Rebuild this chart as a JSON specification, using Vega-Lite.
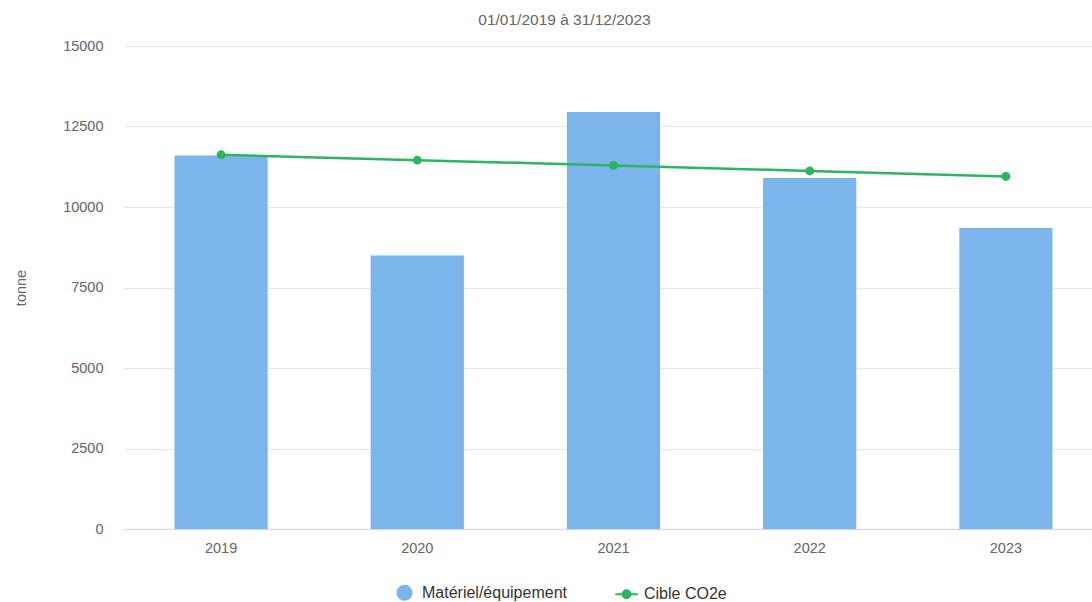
{
  "$schema": "https://vega.github.io/schema/vega-lite/v6.json",
  "width": 981,
  "height": 483,
  "autosize": "none",
  "padding": {"left": 123, "top": 46, "right": 0, "bottom": 73},
  "background": "white",
  "config": {
    "font": "Liberation Sans",
    "view": {"stroke": null}
  },
  "title": {
    "text": "01/01/2019 à 31/12/2023",
    "fontSize": 15.5,
    "fontWeight": "normal",
    "color": "#666666",
    "anchor": "middle",
    "dx": -49,
    "offset": 10
  },
  "data": {
    "values": [
      {"annee": "2019", "materiel": 11600, "cible": 11620},
      {"annee": "2020", "materiel": 8490, "cible": 11455},
      {"annee": "2021", "materiel": 12950, "cible": 11290},
      {"annee": "2022", "materiel": 10900, "cible": 11120},
      {"annee": "2023", "materiel": 9350, "cible": 10950}
    ]
  },
  "encoding": {
    "x": {
      "field": "annee",
      "type": "ordinal",
      "scale": {"paddingInner": 0.525, "paddingOuter": 0.2625},
      "axis": {
        "title": null,
        "labelAngle": 0,
        "labelColor": "#666666",
        "labelFontSize": 14.5,
        "labelPadding": 12,
        "ticks": false,
        "domainColor": "#ccd6eb",
        "domainWidth": 1,
        "grid": false
      }
    }
  },
  "layer": [
    {
      "mark": {"type": "bar", "color": "#7cb5ec"},
      "encoding": {
        "y": {
          "field": "materiel",
          "type": "quantitative",
          "scale": {"domain": [0, 15000], "nice": false},
          "axis": {
            "title": "tonne",
            "titleColor": "#666666",
            "titleFontSize": 14.5,
            "titleFontWeight": "normal",
            "titlePadding": 34,
            "values": [0, 2500, 5000, 7500, 10000, 12500, 15000],
            "format": "d",
            "labelColor": "#666666",
            "labelFontSize": 14.5,
            "labelPadding": 20,
            "ticks": false,
            "domain": false,
            "gridColor": "#e6e6e6",
            "gridWidth": 1
          }
        },
        "color": {
          "datum": "Matériel/équipement",
          "type": "nominal",
          "scale": {
            "domain": ["Matériel/équipement", "Cible CO2e"],
            "range": ["#7cb5ec", "#2bb560"]
          },
          "legend": {
            "title": null,
            "orient": "none",
            "direction": "horizontal",
            "legendX": 273,
            "legendY": 538,
            "labelFontSize": 16,
            "labelColor": "#333333",
            "symbolSize": 200,
            "columnPadding": 44,
            "labelOffset": 9,
            "encode": {
              "symbols": {
                "update": {
                  "shape": {"signal": "datum.value === 'Cible CO2e' ? 'M-1.6,0L1.6,0M-0.55,0A0.55,0.55,0,1,1,0.55,0A0.55,0.55,0,1,1,-0.55,0Z' : 'circle'"},
                  "strokeWidth": {"value": 2},
                  "stroke": {"signal": "datum.value === 'Cible CO2e' ? '#2bb560' : '#7cb5ec'"},
                  "fill": {"signal": "datum.value === 'Cible CO2e' ? '#2bb560' : '#7cb5ec'"}
                }
              }
            }
          }
        }
      }
    },
    {
      "mark": {"type": "line", "color": "#2bb560", "strokeWidth": 2.5, "point": {"filled": true, "size": 80, "color": "#2bb560"}},
      "encoding": {
        "y": {"field": "cible", "type": "quantitative"},
        "color": {"datum": "Cible CO2e", "type": "nominal"}
      }
    }
  ]
}
